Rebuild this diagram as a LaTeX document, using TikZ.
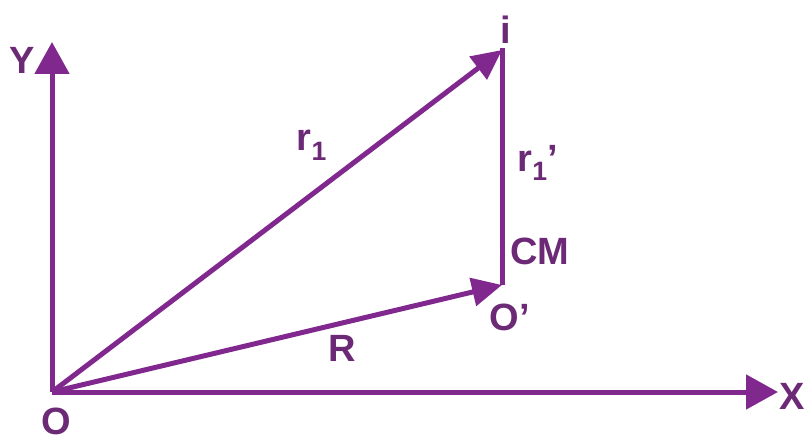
\documentclass[tikz,border=0pt]{standalone}
\usepackage{fontspec}
\setmainfont{Liberation Sans}
\usepackage{tikz}
\usetikzlibrary{arrows.meta, positioning, calc}
\definecolor{vecpurple}{RGB}{128,40,142}
\definecolor{labpurple}{RGB}{108,42,118}
\tikzset{
  eje/.style={line width=5pt, draw=vecpurple, -{Triangle[length=32pt,width=34pt]}},
  vector/.style={line width=5pt, draw=vecpurple, -{Triangle[length=30pt,width=28pt]}},
  etiqueta/.style={text=labpurple, font=\fontsize{38}{40}\selectfont\bfseries, inner sep=0pt}
}
\begin{document}
\begin{tikzpicture}[x=1pt, y=-1pt]
            \useasboundingbox (0,0) rectangle (807,441);

            % Puntos
            \coordinate (O) at (52, 392);
            \coordinate (xfin) at (778, 392);
            \coordinate (yfin) at (52, 42);
            \coordinate (pi) at (502, 50);
            \coordinate (op) at (502, 285);

            % Ejes
            \draw[eje] (O) -- (xfin);
            \draw[eje] (O) -- (yfin);

            % Vectores
            \draw[vector] (O) -- (pi);
            \draw[vector] (O) -- (op);
            \draw[line width=5pt, draw=vecpurple] (op) -- ($(pi)+(0,-2)$);

            % Etiquetas
            \node[etiqueta] (lx) at (792, 396) {X};
            \node[etiqueta] (ly) at (22, 60) {Y};
            \node[etiqueta] (lo) at (56, 421) {O};
            \node[etiqueta] (li) at (506, 30) {i};
            \node[etiqueta] (lop) at (510, 317) {O’};
            \node[etiqueta] (lcm) at (540, 251) {CM};
            \node[etiqueta] (lr) at (342, 348) {R};
            \node[etiqueta] (lr1) at (312, 145) {r\textsubscript{1}};
            \node[etiqueta] (lr1p) at (538, 163) {r\textsubscript{1}’};

        \end{tikzpicture}
\end{document}
